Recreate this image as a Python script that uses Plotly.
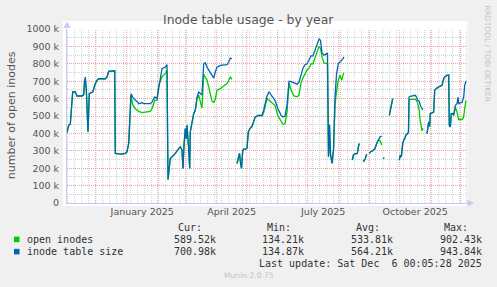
import pandas as pd
import plotly.graph_objects as go

BASE_DATE = pd.Timestamp("2025-01-01")

# days after 1 Jan 2025 (readings); a gap in the data is marked by None values
day_offset = [
    -59.7, -58, -56.4, -54, -51.4, -49.7, -44.7, -43, -42.2, -41.4,
    -40.4, -38.7, -37.4, -34, -31.4, -29.7, -28, -21.4, -19.7, -18,
    -12, -11.4, -4.7, -1.4, 0.3, 2, 4.3, 6, 8.6, 10.3,
    12, 15.3, 17, 23.6, 25.3, 28, 30.3, 32, 33.6, 35.3,
    38.6, 40.3, 41.3, 43.6, 45.3, 48.6, 52, 53.6, 55.3, 56.3,
    57.3, 58.6, 59.6, 60.3, 62, 63, 63.6, 64.6, 67, 68.6,
    70.3, 72, 73.6, 75.3, 77, 78.6, 80.3, 82, 83.6, 85.3,
    87, 88.6, 90.3, 93.6, 97, 100.3, 102, 103.6, 105.3,
    107,
    110.3, 111.8, 112.8, 113.8, 114.8, 116, 117, 118.6, 120.3, 121.6,
    123.3, 125.3, 127, 128.6, 132, 135.3, 137, 138.6, 140.3, 142.3,
    145.3, 148.3, 151.3, 154.3, 156.3, 158.3, 160.3, 162.3, 164.3, 167.3,
    170.3, 172.3, 174.3, 176.3, 178.3, 180.3, 182.3, 184.3, 186.3, 188.3,
    190.3, 192.3, 193.8, 195.3, 197.3, 199.3, 200.8, 201.8, 202.8, 203.8,
    205.3, 206.8, 208.3, 209.8, 211.6, 213.3, 215, 216.3, 217.3,
    221,
    225.6, 226.8, 228.3, 230.6, 231.6, 232.6,
    234.5,
    236.6, 238.3, 240,
    241.3,
    242.6, 244, 246, 248.3, 250, 251.6, 253.3, 255,
    255.8,
    256.3, 257.6,
    260,
    262.6, 264.3, 266,
    269,
    272.6, 273.6, 274.6, 275.3, 276, 277, 278, 279.3, 281, 281.8,
    282.3, 283.6, 287, 288.6, 289.6, 291, 292.6, 293.6, 295.3, 296.3,
    298,
    300.3, 301.3, 302, 303, 303.6, 305.3, 307, 308, 309.3, 312,
    315.3, 317, 318, 320.3, 322, 322.6, 323.6, 324.6, 326, 327,
    328.6, 330.3, 331.3, 332, 333.6, 335.3, 336.3, 337, 338, 339.3,
]

# inode table size, thousands
table_size_k = [
    405, 447, 453, 638, 638, 615, 615, 623, 700, 724,
    657, 409, 628, 638, 686, 705, 714, 714, 724, 756,
    760, 285, 281, 285, 294, 342, 628, 609, 590, 584,
    571, 577, 571, 571, 580, 609, 600, 676, 714, 772,
    781, 795, 135, 256, 265, 285, 313, 323, 304, 199,
    332, 428, 370, 447, 313, 199, 409, 447, 514, 533,
    609, 638, 630, 620, 800, 806, 781, 765, 753, 734,
    718, 753, 781, 791, 795, 795, 810, 833, 829,
    None,
    227, 260, 285, 230, 199, 300, 310, 308, 315, 409,
    428, 440, 475, 495, 504, 504, 533, 581, 615, 638,
    615, 590, 540, 505, 495, 500, 560, 700, 697, 692,
    683, 695, 740, 775, 795, 800, 820, 845, 845, 875,
    905, 942, 935, 862, 850, 855, 860, 266, 450, 280,
    228, 304, 600, 740, 803, 810, 820, 830, 840,
    None,
    247, 276, 282, 285, 320, 342,
    None,
    237, 250, 281,
    None,
    285, 295, 300, 313, 342, 361, 380, 384,
    None,
    256, 260,
    None,
    504, 561, 600,
    None,
    246, 275, 265, 313, 342, 361, 370, 390, 399, 410,
    609, 613, 615, 619, 610, 590, 585, 561, 542, 535,
    None,
    399, 447, 466, 440, 514, 518, 523, 648, 657, 667,
    676, 714, 724, 733, 735, 447, 437, 514, 514, 504,
    561, 571, 609, 571, 577, 577, 590, 609, 676, 701,
]

# open inodes, thousands
open_inodes_k = [
    405, 447, 453, 638, 638, 615, 615, 623, 690, 705,
    650, 409, 628, 638, 686, 705, 714, 714, 724, 756,
    760, 285, 281, 285, 294, 342, 620, 565, 542, 535,
    527, 520, 522, 527, 542, 590, 590, 676, 700, 725,
    745, 762, 134, 256, 265, 285, 313, 323, 304, 199,
    332, 428, 370, 447, 313, 199, 409, 447, 514, 533,
    600, 620, 590, 545, 740, 720, 705, 667, 619, 585,
    577, 596, 648, 657, 672, 686, 705, 724, 711,
    None,
    227, 260, 285, 230, 199, 300, 310, 308, 315, 409,
    428, 440, 475, 495, 504, 500, 520, 570, 600, 590,
    575, 560, 500, 470, 452, 455, 520, 690, 650, 615,
    610, 620, 690, 720, 745, 765, 775, 800, 800, 830,
    860, 900, 890, 840, 805, 800, 800, 266, 450, 280,
    228, 304, 560, 640, 705, 734, 705, 735, 748,
    None,
    247, 276, 282, 285, 320, 342,
    None,
    237, 250, 281,
    None,
    285, 295, 300, 313, 342, 361, 360, 333,
    None,
    256, 260,
    None,
    504, 561, 600,
    None,
    246, 275, 265, 313, 342, 361, 370, 390, 399, 410,
    590, 595, 596, 596, 590, 575, 530, 470, 415, 430,
    None,
    399, 447, 466, 440, 514, 518, 523, 648, 657, 667,
    676, 714, 724, 733, 735, 447, 437, 514, 514, 504,
    550, 523, 500, 480, 480, 480, 485, 500, 542, 590,
]

assert len(day_offset) == len(table_size_k) == len(open_inodes_k)

series_names = ["open inodes", "inode table size"]
series_colors = ["#00cc00", "#0066b3"]
stat_cur = ["589.52k", "700.98k"]
stat_min = ["134.21k", "134.87k"]
stat_avg = ["533.81k", "564.21k"]
stat_max = ["902.43k", "943.84k"]

y_tick_values = [i * 100000 for i in range(11)]
y_tick_text = ["0"] + [f"{i * 100} k" for i in range(1, 11)]
x_tick_dates = ["2025-01-16 12:00", "2025-04-16", "2025-07-16 12:00", "2025-10-16 12:00"]
x_tick_text = ["January 2025", "April 2025", "July 2025", "October 2025"]

title_text = "Inode table usage - by year"
y_title = "number of open inodes"
last_update = "Last update: Sat Dec\u00a0\u00a06 00:05:28 2025"
footer = "Munin 2.0.75"
side_text = "RRDTOOL / TOBI OETIKER"

dates = BASE_DATE + pd.to_timedelta(day_offset, unit="D")
open_vals = [None if v is None else v * 1000 for v in open_inodes_k]
table_vals = [None if v is None else v * 1000 for v in table_size_k]

RED = "#eba0a0"
GRAY = "#cfcfcf"
AXIS = "#c8c8f4"
TXT = "#555555"

# pixel -> paper helpers for layout decorations
L, R, T, B = 67, 467, 28.5, 203.0
def px(x):
    return (x - L) / (R - L)
def py(y):
    return (B - y) / (B - T)

fig = go.Figure()
for vals, name, color in [(open_vals, series_names[0], series_colors[0]),
                          (table_vals, series_names[1], series_colors[1])]:
    fig.add_trace(go.Scatter(x=dates, y=vals, mode="lines", name=name,
                             line=dict(color=color, width=1.3),
                             connectgaps=False, hoverinfo="skip"))

x_start = BASE_DATE + pd.Timedelta(days=-59.7)
x_end = BASE_DATE + pd.Timedelta(days=340.3)

shapes = []
# white canvas
shapes.append(dict(type="rect", xref="paper", yref="paper",
                   x0=px(63), x1=px(467.5), y0=py(206), y1=py(20.5),
                   fillcolor="white", line=dict(width=0), layer="below"))
# weekly grid (Sundays)
for wk in pd.date_range("2024-11-03", x_end, freq="7D"):
    shapes.append(dict(type="line", xref="x", yref="paper", x0=wk, x1=wk, y0=0, y1=1,
                       line=dict(color=GRAY, width=1, dash="1px,1px"), layer="below"))
# monthly grid
for mo in pd.date_range("2024-12-01", x_end, freq="MS"):
    shapes.append(dict(type="line", xref="x", yref="paper", x0=mo, x1=mo, y0=0, y1=1,
                       line=dict(color=RED, width=1, dash="1px,1px"), layer="below"))
# axis arrows
shapes.append(dict(type="path", xref="paper", yref="paper",
                   path=f"M {px(63.5)},{py(27.5)} L {px(67)},{py(21)} L {px(70.5)},{py(27.5)} Z",
                   fillcolor=AXIS, line=dict(width=0), layer="above"))
shapes.append(dict(type="path", xref="paper", yref="paper",
                   path=f"M {px(467.5)},{py(199.5)} L {px(474)},{py(203)} L {px(467.5)},{py(206.5)} Z",
                   fillcolor=AXIS, line=dict(width=0), layer="above"))
# legend colour boxes
for i, c in enumerate(series_colors):
    yc = 239.5 + i * 12.3
    shapes.append(dict(type="rect", xref="paper", yref="paper",
                       x0=px(14), x1=px(19.5), y0=py(yc + 2.8), y1=py(yc - 2.8),
                       fillcolor=c, line=dict(width=0), layer="above"))

MONO = "DejaVu Sans Mono"
ann = []
ann.append(dict(text=title_text, x=px(248.5), y=py(19), xref="paper", yref="paper",
                showarrow=False, xanchor="center", yanchor="middle",
                font=dict(family="DejaVu Sans", size=12.4, color=TXT)))
ann.append(dict(text=y_title, x=px(11), y=py(115), xref="paper", yref="paper",
                showarrow=False, textangle=-90, xanchor="center", yanchor="middle",
                font=dict(family="DejaVu Sans", size=11, color=TXT)))
ann.append(dict(text=side_text, x=px(488), y=py(53), xref="paper", yref="paper",
                showarrow=False, textangle=90, xanchor="center", yanchor="middle",
                font=dict(family="DejaVu Sans", size=7.5, color="#c4c4c4")))

col_right = [216.7, 305.3, 394.3, 482.7]
headers = ["Cur:", "Min:", "Avg:", "Max:"]
for h, xr in zip(headers, col_right):
    ann.append(dict(text=h, x=px(xr - 12.5), y=py(227.7), xref="paper", yref="paper",
                    showarrow=False, xanchor="right", yanchor="middle",
                    font=dict(family=MONO, size=10, color="#333333")))
for i, name in enumerate(series_names):
    yc = 239.5 + i * 12.3
    ann.append(dict(text=name, x=px(25), y=py(yc), xref="paper", yref="paper",
                    showarrow=False, xanchor="left", yanchor="middle",
                    font=dict(family=MONO, size=10, color="#333333")))
    for vals, xr in zip([stat_cur, stat_min, stat_avg, stat_max], col_right):
        ann.append(dict(text=vals[i], x=px(xr + 1), y=py(yc), xref="paper", yref="paper",
                        showarrow=False, xanchor="right", yanchor="middle",
                        font=dict(family=MONO, size=10, color="#333333")))
ann.append(dict(text=last_update, x=px(483.7), y=py(263.5), xref="paper", yref="paper",
                showarrow=False, xanchor="right", yanchor="middle",
                font=dict(family=MONO, size=10, color="#333333")))
ann.append(dict(text=footer, x=px(248.5), y=py(275.7), xref="paper", yref="paper",
                showarrow=False, xanchor="center", yanchor="middle",
                font=dict(family="DejaVu Sans", size=7.6, color="#c4c4c4")))

fig.update_layout(
    width=497, height=287,
    margin=dict(l=L, r=497 - R, t=T, b=287 - B),
    paper_bgcolor="#f0f0f0", plot_bgcolor="#ffffff",
    showlegend=False,
    font=dict(family="DejaVu Sans", size=9.5, color=TXT),
    shapes=shapes, annotations=ann,
    xaxis=dict(type="date", range=[x_start, x_end],
               tickvals=x_tick_dates, ticktext=x_tick_text,
               showgrid=False, ticks="", zeroline=False,
               showline=True, linecolor=AXIS, linewidth=1,
               tickfont=dict(size=9.5, color=TXT)),
    yaxis=dict(range=[0, 1000000], tickvals=y_tick_values, ticktext=y_tick_text,
               showgrid=True, gridcolor=RED, griddash="1px,1px", gridwidth=1,
               ticks="", zeroline=False, showline=True, linecolor=AXIS, linewidth=1,
               ticklabelstandoff=5, tickfont=dict(size=9.5, color=TXT),
               minor=dict(dtick=50000, showgrid=True, gridcolor=GRAY,
                          griddash="1px,1px", gridwidth=1)),
)

fig.write_html("out.html")
